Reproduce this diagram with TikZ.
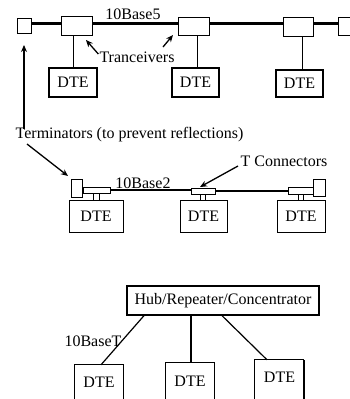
\documentclass[tikz,border=0pt]{standalone}
\usepackage{fontspec}
\setmainfont{Liberation Serif}
\usetikzlibrary{arrows.meta}
\tikzset{
  box/.style={draw, line width=0.8pt, inner sep=0pt},
  dtebox/.style={box, line width=1.3pt},
  thin/.style={line width=0.8pt},
  cable/.style={line width=3pt},
  coax/.style={line width=1.8pt},
  lab/.style={inner sep=0pt},
  arr/.style={line width=1.3pt, -{Stealth[length=7pt,width=6pt]}},
}
\begin{document}
\begin{tikzpicture}[x=1pt,y=-1pt,font=\fontsize{16}{18}\selectfont]
\useasboundingbox (0,0) rectangle (350,399);
\clip (0,0) rectangle (350,399);
% ---- 10Base5 ----
\node[box, minimum width=14pt, minimum height=15pt] (tL) at (24,25.5) {};
\node[box, minimum width=31pt, minimum height=19pt] (tr1) at (76.5,25.5) {};
\node[box, minimum width=31pt, minimum height=18pt] (tr2) at (193.5,26) {};
\node[box, minimum width=30pt, minimum height=19pt] (tr3) at (298,26.5) {};
\node[box, minimum width=14pt, minimum height=18pt] (tR) at (345,26) {};
\node[dtebox, minimum width=48pt, minimum height=29pt] (d1) at (73,82.5) {DTE};
\node[dtebox, minimum width=47pt, minimum height=29pt] (d2) at (195.5,82.5) {DTE};
\node[dtebox, minimum width=47pt, minimum height=27pt] (d3) at (299.5,83.5) {DTE};
\draw[cable] ([yshift=2.5pt]tL.east) -- ([yshift=2.5pt]tL.east -| tr1.west);
\draw[cable] ([yshift=2.5pt]tr1.east) -- ([yshift=2.5pt]tr1.east -| tr2.west);
\draw[cable] ([yshift=3pt]tr2.east) -- ([yshift=3pt]tr2.east -| tr3.west);
\draw[cable] ([yshift=3.5pt]tr3.east) -- ([yshift=3.5pt]tr3.east -| tR.west);
\draw[thin] ([xshift=-3.5pt]tr1.south) -- ([xshift=-3.5pt]tr1.south |- d1.north);
\draw[thin] ([xshift=3.5pt]tr2.south) -- ([xshift=3.5pt]tr2.south |- d2.north);
\draw[thin] ([xshift=4pt]tr3.south) -- ([xshift=4pt]tr3.south |- d3.north);
\node[lab] (b5) at (133,14) {10Base5};
\node[lab] (tcv) at (137,57) {Tranceivers};
\coordinate (a1) at (86,40);
\coordinate (a2) at (173,35);
\draw[arr] ([xshift=-1pt,yshift=3pt]tcv.west) -- (a1);
\draw[arr] (163,47) -- (a2);
% ---- 10Base2 ----
\node[lab] (tml) at (129.5,135) {Terminators (to prevent reflections)};
\coordinate (a3) at (24,45);
\draw[arr] (24,129) -- (a3);
\node[box, minimum width=11pt, minimum height=18pt] (mL) at (76.5,188) {};
\node[box, minimum width=27pt, minimum height=6pt] (TL) at (96.5,190) {};
\node[box, minimum width=24pt, minimum height=6pt] (TM) at (203,191) {};
\node[box, minimum width=25pt, minimum height=7pt] (TR) at (300.5,190.5) {};
\node[box, minimum width=12pt, minimum height=17pt] (mR) at (319,187.5) {};
\node[box, minimum width=54pt, minimum height=32pt] (m1) at (96,216) {DTE};
\node[box, minimum width=47pt, minimum height=32pt] (m2) at (203.5,216) {DTE};
\node[box, minimum width=48pt, minimum height=32pt] (m3) at (301,216) {DTE};
\draw[thin] ([xshift=-3pt]TL.south) -- ([xshift=-3pt]TL.south |- m1.north);
\draw[thin] ([xshift=3pt]TL.south) -- ([xshift=3pt]TL.south |- m1.north);
\draw[thin] ([xshift=-3pt]TM.south) -- ([xshift=-3pt]TM.south |- m2.north);
\draw[thin] ([xshift=2pt]TM.south) -- ([xshift=2pt]TM.south |- m2.north);
\draw[thin] ([xshift=-2.5pt]TR.south) -- ([xshift=-2.5pt]TR.south |- m3.north);
\draw[thin] ([xshift=2.5pt]TR.south) -- ([xshift=2.5pt]TR.south |- m3.north);
\draw[coax] (TL.east) -- (TL.east -| TM.west);
\draw[coax] (TM.east) -- (TM.east -| TR.west);
\node[lab] (b2) at (143,183) {10Base2};
\node[lab] (tcn) at (284,161) {T Connectors};
\coordinate (a4) at (68,176);
\coordinate (a5) at (200,187);
\draw[arr] (27,144) -- (a4);
\draw[arr] (238,166) -- (a5);
% ---- 10BaseT ----
\node[box, line width=1.3pt, minimum width=192pt, minimum height=29pt] (hub) at (223,300.5) {Hub/Repeater/Concentrator};
\node[inner sep=0pt, minimum width=48pt, minimum height=34pt] (h1) at (99,382) {DTE};
\node[inner sep=0pt, minimum width=48pt, minimum height=36pt] (h2) at (190,381) {DTE};
\node[inner sep=0pt, minimum width=49pt, minimum height=34pt] (h3) at (279.5,377) {DTE};
\draw[thin] ([yshift=-10pt]h1.south west) -- (h1.north west) -- (h1.north east) -- ([yshift=-10pt]h1.south east);
\draw[thin] ([yshift=-10pt]h2.south west) -- (h2.north west) -- (h2.north east) -- ([yshift=-10pt]h2.south east);
\draw[thin] ([yshift=-20pt]h3.south west) -- (h3.north west) -- (h3.north east);
\draw[line width=1.5pt] (h3.north east) -- ([yshift=-20pt]h3.south east);
\draw[line width=1.2pt] ([xshift=-79pt]hub.south) -- ([xshift=2pt]h1.north);
\draw[line width=1.2pt] ([xshift=-32pt]hub.south) -- ([xshift=1pt]h2.north);
\draw[line width=1.2pt] ([xshift=-1pt]hub.south) -- ([xshift=-12.5pt]h3.north);
\node[lab] (bt) at (93,341) {10BaseT};
\end{tikzpicture}
\end{document}
